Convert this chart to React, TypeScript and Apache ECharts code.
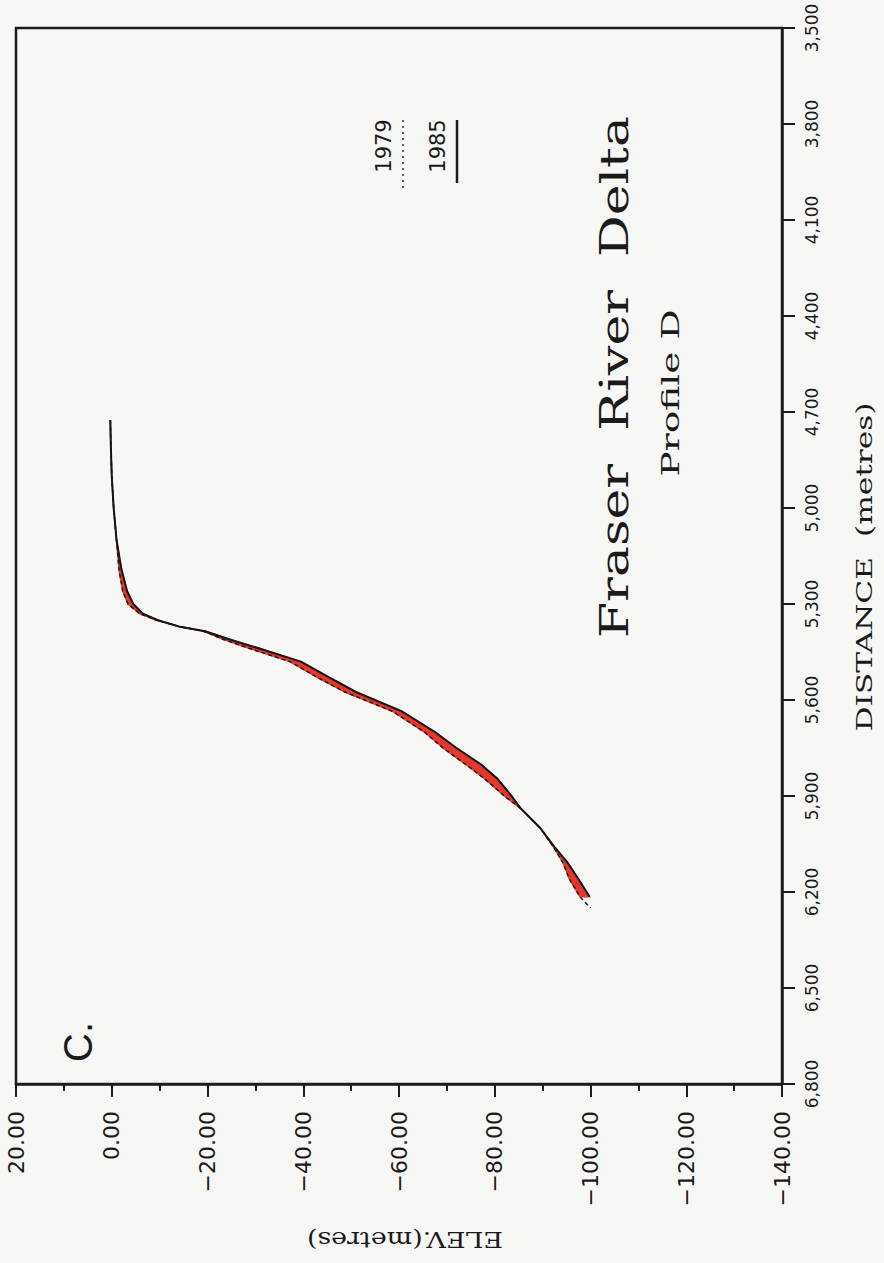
import React, { useEffect, useRef } from "react";
import * as echarts from "echarts";

// Profile D, 1985 survey (solid line)
const distance1985 = [4725, 4800, 4900, 5000, 5100, 5190, 5260, 5300, 5330, 5350, 5370, 5385, 5410, 5440, 5480, 5530, 5575, 5635, 5700, 5750, 5800, 5845, 5900, 5940, 6000, 6060, 6110, 6160, 6215];
const elev1985 = [0.3, 0.2, 0, -0.4, -1.0, -2.0, -3.2, -4.5, -6.5, -9.5, -14, -19.5, -24.5, -31, -39.5, -45.5, -51, -60.5, -67.5, -72, -77, -80.5, -83.5, -85.5, -89.5, -92.5, -95.3, -97.5, -99.8];
// Profile D, 1979 survey (dashed line)
const distance1979 = [4725, 4800, 4900, 5000, 5100, 5190, 5260, 5300, 5330, 5350, 5370, 5385, 5410, 5440, 5480, 5530, 5575, 5635, 5700, 5750, 5800, 5845, 5900, 5940, 6000, 6060, 6110, 6160, 6215, 6250];
const elev1979 = [0.3, 0.2, 0, -0.4, -1.0, -1.5, -2.3, -3.4, -5.8, -9.2, -14, -19.2, -23.2, -29, -37.2, -43, -48.7, -58.6, -65.3, -69.2, -73.8, -77.8, -82, -85.5, -89.5, -92.3, -94.3, -95.6, -97.8, -100];

const distanceTicks = [3500, 3800, 4100, 4400, 4700, 5000, 5300, 5600, 5900, 6200, 6500, 6800];

const SANS = "'DejaVu Sans', 'Liberation Sans', sans-serif";
const SERIF = "'DejaVu Serif', 'Liberation Serif', serif";
const INK = "#1a1a1a";

export default function App() {
  const ref = useRef<HTMLDivElement>(null);
  useEffect(() => {
    document.body.style.margin = "0";
    const chart = echarts.init(ref.current!, null, { renderer: "svg" });
    const line1985 = distance1985.map((d, i) => [elev1985[i], d]);
    const line1979 = distance1979.map((d, i) => [elev1979[i], d]);
    chart.setOption({
      animation: false,
      backgroundColor: "#f7f7f6",
      grid: {
        left: 16,
        right: 102,
        top: 28,
        bottom: 179,
        show: true,
        borderColor: "#1c1c1c",
        borderWidth: 2.5,
        backgroundColor: "transparent",
      },
      xAxis: {
        type: "value",
        min: -140,
        max: 20,
        interval: 20,
        inverse: true,
        position: "bottom",
        splitLine: { show: false },
        axisLine: { show: true, onZero: false, lineStyle: { color: "#1c1c1c", width: 2.5 } },
        axisTick: { show: true, inside: false, length: 13, lineStyle: { color: "#1c1c1c", width: 2 } },
        minorTick: { show: true, splitNumber: 2, length: 7, lineStyle: { color: "#1c1c1c", width: 2 } },
        axisLabel: {
          rotate: 90,
          margin: 27,
          align: "right",
          verticalAlign: "middle",
          fontFamily: SANS,
          fontSize: 22,
          color: INK,
          formatter: (v: number) => (v < 0 ? "\u2212" : "") + Math.abs(v).toFixed(2),
        },
      },
      yAxis: {
        type: "value",
        min: 3500,
        max: 6800,
        inverse: true,
        position: "right",
        splitLine: { show: false },
        axisLine: { show: true, onZero: false, lineStyle: { color: "#1c1c1c", width: 2.5 } },
        axisTick: { show: true, inside: false, length: 13, customValues: distanceTicks, lineStyle: { color: "#1c1c1c", width: 2 } },
        axisLabel: {
          rotate: 90,
          margin: 30,
          align: "center",
          verticalAlign: "middle",
          customValues: distanceTicks,
          fontFamily: SANS,
          fontSize: 17,
          color: INK,
          formatter: (v: number) => v.toLocaleString("en-US"),
        },
      },
      series: [
        {
          type: "custom",
          data: [[elev1985[0], distance1985[0]]],
          silent: true,
          z: 1,
          renderItem: (_params: any, api: any) => {
            const pts: number[][] = [];
            for (let i = 0; i < distance1985.length; i++) pts.push(api.coord([elev1985[i], distance1985[i]]));
            for (let i = distance1985.length - 1; i >= 0; i--) pts.push(api.coord([elev1979[i], distance1979[i]]));
            return {
              type: "polygon",
              shape: { points: pts },
              style: { fill: "#e5372b", stroke: "#e5372b", lineWidth: 1.5 },
            };
          },
        },
        {
          name: "1979",
          type: "line",
          data: line1979,
          showSymbol: false,
          z: 2,
          lineStyle: { color: INK, width: 1.5, type: [4, 3] },
        },
        {
          name: "1985",
          type: "line",
          data: line1985,
          showSymbol: false,
          z: 3,
          lineStyle: { color: "#151515", width: 2 },
        },
      ],
      graphic: [
        {
          type: "text",
          x: 614,
          y: 377,
          rotation: Math.PI / 2,
          scaleX: 1.3,
          style: { text: "Fraser  River  Delta", font: `40px ${SERIF}`, fill: INK, textAlign: "center", textVerticalAlign: "middle" },
        },
        {
          type: "text",
          x: 670,
          y: 393,
          rotation: Math.PI / 2,
          scaleX: 1.5,
          style: { text: "Profile D", font: `25px ${SERIF}`, fill: INK, textAlign: "center", textVerticalAlign: "middle" },
        },
        {
          type: "text",
          x: 384,
          y: 146,
          rotation: Math.PI / 2,
          style: { text: "1979", font: `21px ${SANS}`, fill: INK, textAlign: "center", textVerticalAlign: "middle" },
        },
        {
          type: "line",
          shape: { x1: 403, y1: 188, x2: 403, y2: 120 },
          style: { stroke: "#333", lineWidth: 1.5, lineDash: [2, 4] },
        },
        {
          type: "text",
          x: 438,
          y: 146,
          rotation: Math.PI / 2,
          style: { text: "1985", font: `21px ${SANS}`, fill: INK, textAlign: "center", textVerticalAlign: "middle" },
        },
        {
          type: "line",
          shape: { x1: 457, y1: 183, x2: 457, y2: 120 },
          style: { stroke: INK, lineWidth: 2.5 },
        },
        {
          type: "text",
          x: 78,
          y: 1042,
          rotation: Math.PI / 2,
          style: { text: "C.", font: `40px 'Liberation Sans', Arial, sans-serif`, fill: INK, textAlign: "center", textVerticalAlign: "middle" },
        },
        {
          type: "text",
          x: 864,
          y: 567,
          rotation: Math.PI / 2,
          scaleX: 1.36,
          style: { text: "DISTANCE  (metres)", font: `23px ${SERIF}`, fill: INK, textAlign: "center", textVerticalAlign: "middle" },
        },
        {
          type: "text",
          x: 405,
          y: 1240,
          rotation: Math.PI,
          scaleX: 1.17,
          style: { text: "ELEV.(metres)", font: `23px ${SERIF}`, fill: INK, textAlign: "center", textVerticalAlign: "middle" },
        },
      ],
    });
    return () => chart.dispose();
  }, []);
  return <div ref={ref} style={{ width: 884, height: 1263 }} />;
}
